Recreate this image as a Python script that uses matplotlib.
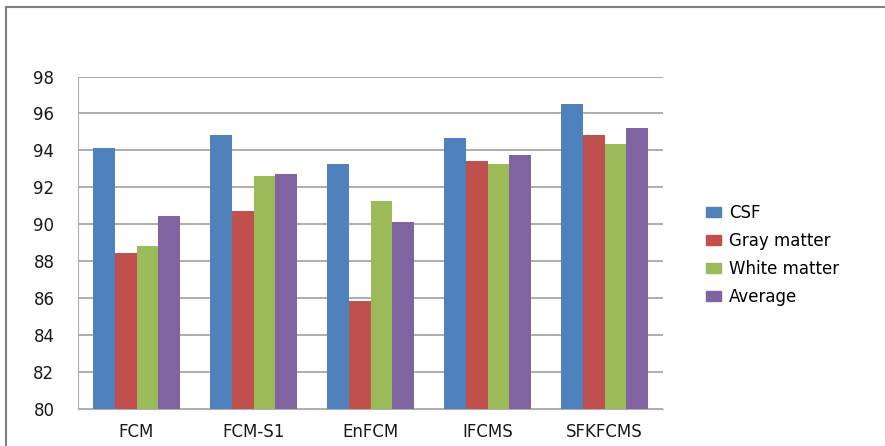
import matplotlib.pyplot as plt
import numpy as np
from matplotlib.lines import Line2D
from matplotlib.patches import Patch

methods = ['FCM', 'FCM-S1', 'EnFCM', 'IFCMS', 'SFKFCMS']
csf = [94.14, 94.83, 93.26, 94.65, 96.49]
gray = [88.45, 90.74, 85.87, 93.42, 94.83]
white = [88.83, 92.60, 91.24, 93.26, 94.34]
average = [90.47, 92.74, 90.14, 93.77, 95.20]

series = [('CSF', csf, '#4f81bd'),
          ('Gray matter', gray, '#c0504d'),
          ('White matter', white, '#9bbb59'),
          ('Average', average, '#8064a2')]

plt.rcParams['font.family'] = ['DejaVu Sans']

fig = plt.figure(figsize=(8.85, 4.46), dpi=100)
ax = fig.add_axes([78 / 885, 37 / 446, 585 / 885, 332.5 / 446])

x = np.arange(len(methods))
w = 0.184
for i, (name, vals, col) in enumerate(series):
    ax.bar(x + (i - 1.5) * w, np.array(vals) - 80, w, bottom=80, color=col,
           label=name, zorder=3)

ax.set_xlim(-0.5, len(methods) - 0.5)
ax.set_ylim(80, 98)
ax.set_yticks(range(80, 99, 2))
ax.set_xticks(x)
ax.set_xticklabels(methods)
ax.tick_params(axis='both', length=0, labelsize=12, colors='#1a1a1a')
ax.tick_params(axis='y', pad=17)
ax.tick_params(axis='x', pad=10)
ax.grid(axis='y', color='#a0a0a0', linewidth=1.2, zorder=0)
for s in ['top', 'right']:
    ax.spines[s].set_visible(False)
ax.spines['left'].set_color('#b0b0b0')
ax.spines['bottom'].set_color('#b0b0b0')

handles = [Patch(color=c, label=n) for n, _, c in series]
fig.legend(handles=handles, loc='upper left', bbox_to_anchor=(691 / 885, 1 - 189 / 446),
           frameon=False, handlelength=0.9, handleheight=0.6,
           labelspacing=0.6, handletextpad=0.5, prop={'size': 12})

# outer chart border
fig.add_artist(Line2D([6 / 885, 6 / 885], [0, 1 - 7 / 446], transform=fig.transFigure,
                      color='#808080', linewidth=1.5))
fig.add_artist(Line2D([6 / 885, 1], [1 - 7 / 446, 1 - 7 / 446], transform=fig.transFigure,
                      color='#808080', linewidth=1.5))

fig.savefig('out.png', dpi=100)
